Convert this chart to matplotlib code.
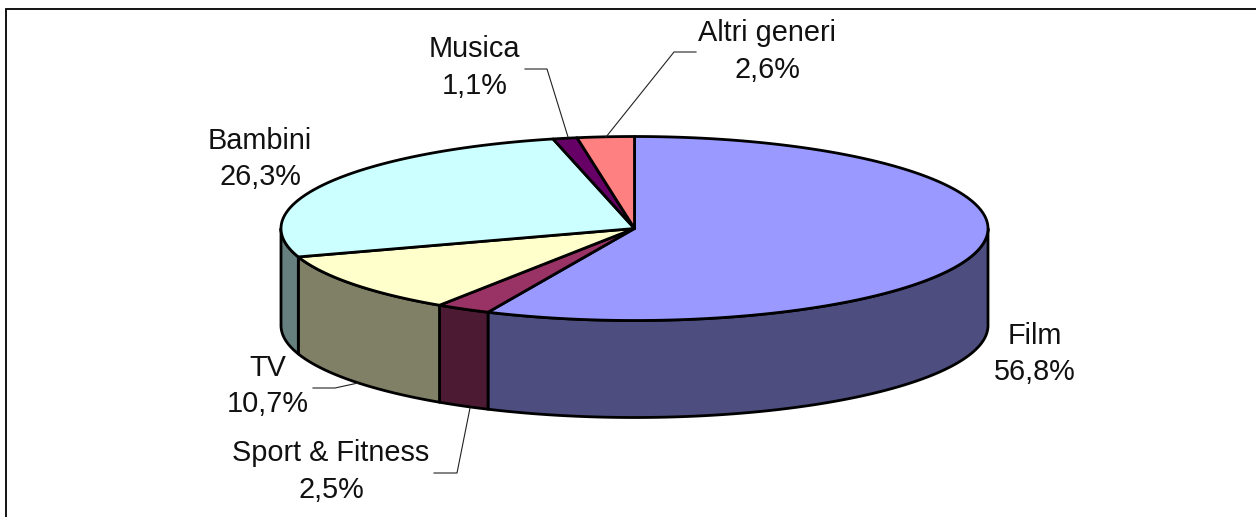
import numpy as np
import matplotlib
matplotlib.use("Agg")
import matplotlib.pyplot as plt
from matplotlib.patches import Polygon

categories = ["Film", "Sport & Fitness", "TV", "Bambini", "Musica", "Altri generi"]
shares = [56.8, 2.5, 10.7, 26.3, 1.1, 2.6]
value_labels = ["56,8%", "2,5%", "10,7%", "26,3%", "1,1%", "2,6%"]
top_colors = ["#9999FF", "#993366", "#FFFFCC", "#CCFFFF", "#660066", "#FF8080"]
side_colors = ["#4D4D80", "#4D1A33", "#808066", "#668080", "#330033", "#804040"]

W, H = 1256, 517
CX, CY, RX, RY, DEPTH = 634.5, 228.5, 353.5, 92, 97
EDGE = 2.0

fig = plt.figure(figsize=(W / 100, H / 100), dpi=100)
ax = fig.add_axes([0, 0, 1, 1])
ax.set_xlim(0, W)
ax.set_ylim(H, 0)
ax.axis("off")


def pts(a1, a2, n=240):
    t = np.radians(np.linspace(a1, a2, n))
    return np.column_stack([CX + RX * np.cos(t), CY - RY * np.sin(t)])


# slice angles, clockwise from 12 o'clock
frac = np.array(shares) / sum(shares) * 360
ends = 90 - np.cumsum(frac)
starts = ends + frac

# side walls (only the part of each slice on the front half, angles -180..0)
for s, e, c in zip(starts, ends, side_colors):
    lo, hi = None, None
    for shift in (0, 360, -360):
        a, b = max(e + shift, -180), min(s + shift, 0)
        if b > a:
            lo, hi = a, b
    if lo is None:
        continue
    arc = pts(hi, lo)
    poly = np.vstack([arc, arc[::-1] + [0, DEPTH]])
    ax.add_patch(Polygon(poly, closed=True, fc=c, ec="black", lw=EDGE, joinstyle="round", zorder=2))

# top faces
for s, e, c in zip(starts, ends, top_colors):
    poly = np.vstack([[CX, CY], pts(s, e)])
    ax.add_patch(Polygon(poly, closed=True, fc=c, ec="black", lw=EDGE, joinstyle="round", zorder=3))

# data labels
label_pos = [(1035, 354), (331, 471.5), (268, 386), (260, 159), (474.5, 67.5), (767, 51.5)]
for name, val, (x, y) in zip(categories, value_labels, label_pos):
    ax.text(x, y, f"{name}\n{val}", ha="center", va="center", fontsize=20.8,
            family=["Liberation Sans", "DejaVu Sans"], color="#111111",
            linespacing=1.38, zorder=5)

# leader lines
leaders = [
    [(434, 473), (457, 473), (470, 408)],
    [(313, 388), (335, 388), (358, 383)],
    [(525, 69), (547, 69), (568, 137)],
    [(696, 52), (674, 52), (606, 137)],
]
for line in leaders:
    xs, ys = zip(*line)
    ax.plot(xs, ys, color="#222222", lw=0.8, zorder=4)

# outer frame: top and left edges only
ax.plot([5.5, 5.5, W], [H, 8.5, 8.5], color="black", lw=1.3, zorder=1, solid_joinstyle="miter")

fig.savefig("out.png", dpi=100, facecolor="white")
